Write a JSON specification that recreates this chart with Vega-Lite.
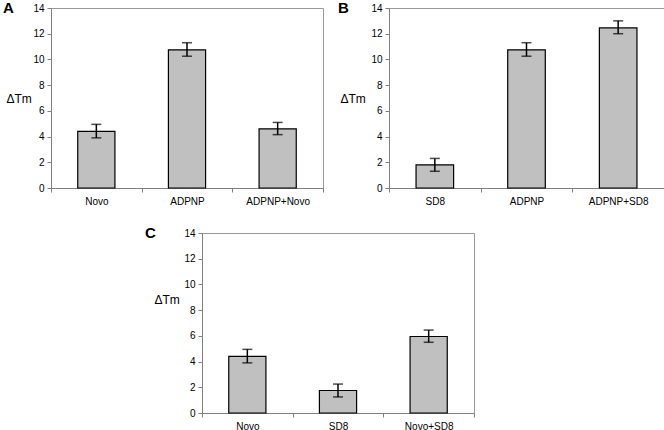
{
  "$schema": "https://vega.github.io/schema/vega-lite/v6.json",
  "padding": {"left": 2, "top": 0, "right": 0, "bottom": 0},
  "background": "white",
  "datasets": {
    "a": [
      {"cond": "Novo", "mean": 4.4, "lo": 3.9, "hi": 4.95},
      {"cond": "ADPNP", "mean": 10.75, "lo": 10.25, "hi": 11.3},
      {"cond": "ADPNP+Novo", "mean": 4.6, "lo": 4.15, "hi": 5.1}
    ],
    "b": [
      {"cond": "SD8", "mean": 1.8, "lo": 1.3, "hi": 2.3},
      {"cond": "ADPNP", "mean": 10.75, "lo": 10.25, "hi": 11.3},
      {"cond": "ADPNP+SD8", "mean": 12.45, "lo": 12.0, "hi": 13.0}
    ],
    "c": [
      {"cond": "Novo", "mean": 4.4, "lo": 3.9, "hi": 4.95},
      {"cond": "SD8", "mean": 1.75, "lo": 1.25, "hi": 2.25},
      {"cond": "Novo+SD8", "mean": 5.95, "lo": 5.5, "hi": 6.45}
    ]
  },
  "spacing": 18,
  "vconcat": [
    {
      "bounds": "flush",
      "spacing": 66,
      "hconcat": [
        {
          "width": 272, "height": 180,
          "title": {"text": "A", "anchor": "start", "frame": "group", "dx": -48, "dy": 13, "offset": 0, "baseline": "top", "fontSize": 15, "fontWeight": "bold", "font": "Liberation Sans", "color": "black"},
          "data": {"name": "a"},
          "encoding": {"x": {"field": "cond", "type": "nominal", "sort": null, "title": null, "scale": {"paddingInner": 0, "paddingOuter": 0}}},
          "layer": [
            {"mark": {"type": "bar", "width": {"band": 0.41}, "fill": "#c0c0c0", "stroke": "black", "strokeWidth": 1.2},
             "encoding": {"y": {"field": "mean", "type": "quantitative", "title": "ΔTm", "scale": {"domain": [0, 14]}, "axis": {"titleX": -45, "titleY": 90}}}},
            {"mark": {"type": "rule", "color": "black", "strokeWidth": 1.5},
             "encoding": {"y": {"field": "lo", "type": "quantitative", "title": "ΔTm"}, "y2": {"field": "hi"}}},
            {"mark": {"type": "tick", "color": "black", "size": 10, "thickness": 1.5},
             "encoding": {"y": {"field": "lo", "type": "quantitative", "title": "ΔTm"}}},
            {"mark": {"type": "tick", "color": "black", "size": 10, "thickness": 1.5},
             "encoding": {"y": {"field": "hi", "type": "quantitative", "title": "ΔTm"}}}
          ]
        },
        {
          "width": 275, "height": 180,
          "title": {"text": "B", "anchor": "start", "frame": "group", "dx": -51, "dy": 13, "offset": 0, "baseline": "top", "fontSize": 15, "fontWeight": "bold", "font": "Liberation Sans", "color": "black"},
          "data": {"name": "b"},
          "encoding": {"x": {"field": "cond", "type": "nominal", "sort": null, "title": null, "scale": {"paddingInner": 0, "paddingOuter": 0}}},
          "layer": [
            {"mark": {"type": "bar", "width": {"band": 0.41}, "fill": "#c0c0c0", "stroke": "black", "strokeWidth": 1.2},
             "encoding": {"y": {"field": "mean", "type": "quantitative", "title": "ΔTm", "scale": {"domain": [0, 14]}, "axis": {"titleX": -49, "titleY": 90}}}},
            {"mark": {"type": "rule", "color": "black", "strokeWidth": 1.5},
             "encoding": {"y": {"field": "lo", "type": "quantitative", "title": "ΔTm"}, "y2": {"field": "hi"}}},
            {"mark": {"type": "tick", "color": "black", "size": 10, "thickness": 1.5},
             "encoding": {"y": {"field": "lo", "type": "quantitative", "title": "ΔTm"}}},
            {"mark": {"type": "tick", "color": "black", "size": 10, "thickness": 1.5},
             "encoding": {"y": {"field": "hi", "type": "quantitative", "title": "ΔTm"}}}
          ]
        }
      ]
    },
    {
      "bounds": "flush",
      "spacing": 10,
      "hconcat": [
        {
          "width": 141, "height": 10,
          "data": {"values": []},
          "mark": "point",
          "encoding": {},
          "view": {"stroke": null}
        },
        {
          "width": 272, "height": 180,
          "title": {"text": "C", "anchor": "start", "frame": "group", "dx": -57, "dy": 13, "offset": 0, "baseline": "top", "fontSize": 15, "fontWeight": "bold", "font": "Liberation Sans", "color": "black"},
          "data": {"name": "c"},
          "encoding": {"x": {"field": "cond", "type": "nominal", "sort": null, "title": null, "scale": {"paddingInner": 0, "paddingOuter": 0}}},
          "layer": [
            {"mark": {"type": "bar", "width": {"band": 0.41}, "fill": "#c0c0c0", "stroke": "black", "strokeWidth": 1.2},
             "encoding": {"y": {"field": "mean", "type": "quantitative", "title": "ΔTm", "scale": {"domain": [0, 14]}, "axis": {"titleX": -48, "titleY": 66}}}},
            {"mark": {"type": "rule", "color": "black", "strokeWidth": 1.5},
             "encoding": {"y": {"field": "lo", "type": "quantitative", "title": "ΔTm"}, "y2": {"field": "hi"}}},
            {"mark": {"type": "tick", "color": "black", "size": 10, "thickness": 1.5},
             "encoding": {"y": {"field": "lo", "type": "quantitative", "title": "ΔTm"}}},
            {"mark": {"type": "tick", "color": "black", "size": 10, "thickness": 1.5},
             "encoding": {"y": {"field": "hi", "type": "quantitative", "title": "ΔTm"}}}
          ]
        }
      ]
    }
  ],
  "config": {
    "font": "Liberation Sans",
    "view": {"stroke": "#999999", "strokeWidth": 1},
    "axis": {"labelFont": "Liberation Sans", "labelFontSize": 10, "labelColor": "black", "domainColor": "#808080", "tickColor": "#808080", "tickSize": 4, "grid": false, "titleFont": "Liberation Sans", "titleFontSize": 12, "titleFontWeight": "normal", "titleColor": "black"},
    "axisX": {"labelAngle": 0, "labelPadding": 4, "tickBand": "extent"},
    "axisY": {"titleAngle": 0, "titleAlign": "left", "titleBaseline": "middle", "values": [0, 2, 4, 6, 8, 10, 12, 14], "labelPadding": 3}
  }
}
